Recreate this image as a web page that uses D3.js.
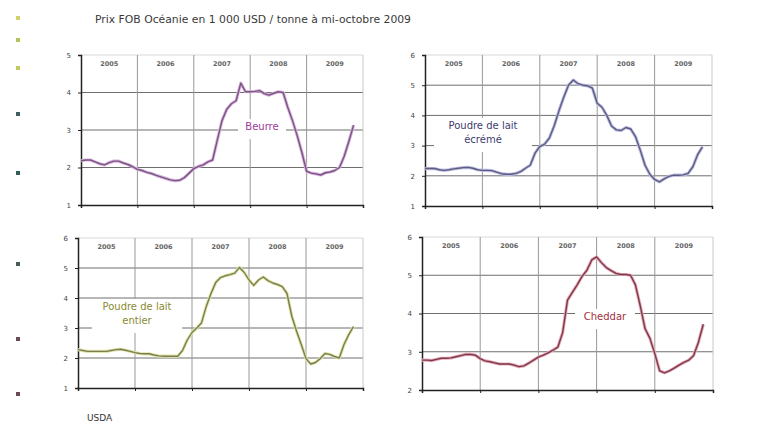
<!DOCTYPE html>
<html>
<head>
<meta charset="utf-8">
<script src="https://cdn.jsdelivr.net/npm/d3@7"></script>
<style>
  body { margin: 0; background: #fff; }
  svg { display: block; font-family: "DejaVu Sans", Verdana, sans-serif; }
</style>
</head>
<body>
<svg id="chart" width="764" height="425"></svg>
<script>
// monthly prices, Jan 2005 -> Oct/Nov 2009 (1 000 USD / t)
var years = ['2005', '2006', '2007', '2008', '2009'];
var startYear = 2005;

var beurre = [2.18, 2.2, 2.2, 2.15, 2.1, 2.07, 2.13, 2.17, 2.17, 2.12, 2.08, 2.02,
    1.95, 1.92, 1.87, 1.84, 1.79, 1.75, 1.71, 1.67, 1.65, 1.66, 1.73, 1.85,
    1.97, 2.03, 2.07, 2.15, 2.2, 2.73, 3.25, 3.55, 3.7, 3.78, 4.25, 4.02,
    4.02, 4.03, 4.05, 3.97, 3.93, 3.98, 4.02, 4.0, 3.6, 3.25, 2.85, 2.4,
    1.9, 1.85, 1.83, 1.8, 1.86, 1.88, 1.92, 2.0, 2.3, 2.7, 3.13];

var poudreEcreme = [2.24, 2.24, 2.24, 2.2, 2.18, 2.2, 2.23, 2.25, 2.27, 2.28, 2.25, 2.2,
    2.18, 2.18, 2.17, 2.12, 2.07, 2.05, 2.05, 2.08, 2.14, 2.25, 2.35, 2.75,
    2.97, 3.05, 3.25, 3.65, 4.15, 4.6, 5.0, 5.17, 5.05, 5.0, 4.98, 4.9,
    4.4, 4.27, 4.0, 3.65, 3.52, 3.5, 3.6, 3.55, 3.3, 2.85, 2.35, 2.05,
    1.88, 1.8, 1.9, 1.98, 2.02, 2.02, 2.03, 2.08, 2.3, 2.7, 2.96];

var poudreEntier = [2.28, 2.25, 2.22, 2.22, 2.22, 2.22, 2.22, 2.25, 2.28, 2.29, 2.26, 2.22,
    2.18, 2.15, 2.14, 2.14, 2.1, 2.07, 2.06, 2.06, 2.06, 2.06, 2.25, 2.6,
    2.85, 3.0, 3.17, 3.72, 4.15, 4.52, 4.68, 4.74, 4.78, 4.83, 5.02, 4.85,
    4.6, 4.42, 4.6, 4.7, 4.58, 4.5, 4.45, 4.38, 4.15, 3.4, 2.9, 2.45,
    1.98, 1.8, 1.85, 1.98, 2.15, 2.12, 2.05, 2.0, 2.45, 2.78, 3.05];

var cheddar = [2.78, 2.78, 2.77, 2.8, 2.83, 2.83, 2.84, 2.87, 2.9, 2.93, 2.93, 2.91,
    2.82, 2.76, 2.74, 2.71, 2.68, 2.68, 2.68, 2.65, 2.61, 2.63, 2.7, 2.78,
    2.86, 2.91, 2.97, 3.04, 3.12, 3.5, 4.35, 4.55, 4.75, 4.97, 5.13, 5.4,
    5.48, 5.33, 5.2, 5.12, 5.05, 5.02, 5.02, 5.0, 4.75, 4.2, 3.6, 3.35,
    2.95, 2.5, 2.45, 2.5, 2.57, 2.65, 2.72, 2.78, 2.9, 3.25, 3.72];

var ticks5 = [1, 2, 3, 4, 5];
var ticks6 = [1, 2, 3, 4, 5, 6];
var ticksCheddar = [2, 3, 4, 5, 6];

var svg = d3.select('#chart');

svg.append('text')
    .attr('x', 95).attr('y', 23)
    .attr('font-size', 11)
    .attr('textLength', 316)
    .attr('lengthAdjust', 'spacingAndGlyphs')
    .attr('fill', '#3a3a3a')
    .text('Prix FOB Océanie en 1 000 USD / tonne à mi-octobre 2009');

svg.append('text')
    .attr('x', 87).attr('y', 421)
    .attr('font-size', 9)
    .attr('fill', '#333')
    .text('USDA');

// little bullet marks down the left side
var bullets = [[18, '#cfd36a'], [40, '#b9c25a'], [68, '#c2cc5a'], [114, '#3f5f5f'],
    [173, '#2f5f58'], [264, '#4a5a5a'], [339, '#6a4a58'], [394, '#6a4a58']];
svg.selectAll('rect.bullet').data(bullets).enter().append('rect')
    .attr('class', 'bullet')
    .attr('x', 16).attr('y', d => d[0] - 2)
    .attr('width', 4).attr('height', 4)
    .attr('fill', d => d[1]);

function Panel(cfg) {
    var x = d3.scaleLinear().domain([startYear, startYear + years.length]).range([cfg.left, cfg.right]);
    var y = d3.scaleLinear().domain(d3.extent(cfg.ticks)).range([cfg.bottom, cfg.top]);
    var g = svg.append('g');

    // horizontal grid
    g.selectAll('line.hgrid').data(cfg.ticks.slice(1)).enter().append('line')
        .attr('x1', cfg.left).attr('x2', cfg.right)
        .attr('y1', d => y(d)).attr('y2', d => y(d))
        .attr('stroke', d => d == cfg.ticks[cfg.ticks.length - 1] ? '#d8d8d8' : '#6e6e6e')
        .attr('stroke-width', 1);

    // vertical grid at year boundaries
    g.selectAll('line.vgrid').data(d3.range(1, years.length + 1)).enter().append('line')
        .attr('x1', d => x(startYear + d)).attr('x2', d => x(startYear + d))
        .attr('y1', cfg.top).attr('y2', cfg.bottom)
        .attr('stroke', d => d == years.length ? '#c8c8c8' : '#999')
        .attr('stroke-width', 1);

    // year labels
    g.selectAll('text.year').data(years).enter().append('text')
        .attr('x', (d, i) => x(startYear + i + 0.5))
        .attr('y', cfg.top + 11)
        .attr('text-anchor', 'middle')
        .attr('font-size', 6.5)
        .attr('font-weight', 'bold')
        .attr('fill', '#666')
        .text(d => d);

    var yAxis = g.append('g')
        .attr('transform', `translate(${cfg.left},0)`)
        .call(d3.axisLeft(y).tickValues(cfg.ticks).tickSize(3).tickFormat(d3.format('d')));
    yAxis.select('.domain').attr('stroke', '#222').attr('stroke-width', 1.5);
    yAxis.selectAll('.tick line').attr('stroke', '#222');
    yAxis.selectAll('.tick text').attr('font-size', 7).attr('fill', '#444')
        .attr('x', -10).attr('font-family', '"DejaVu Sans", sans-serif');

    var xAxis = g.append('g')
        .attr('transform', `translate(0,${cfg.bottom})`)
        .call(d3.axisBottom(x).tickValues(d3.range(startYear, startYear + years.length + 1)).tickSize(3).tickFormat(''));
    xAxis.select('.domain').attr('stroke', '#222').attr('stroke-width', 1.5);
    xAxis.selectAll('.tick line').attr('stroke', '#222');

    // series label on a white box
    var lab = g.append('g');
    lab.append('rect')
        .attr('x', cfg.label.x - cfg.label.w / 2).attr('y', cfg.label.y - 11)
        .attr('width', cfg.label.w).attr('height', cfg.label.lines.length * 14 + 6)
        .attr('fill', '#fff');
    lab.selectAll('text').data(cfg.label.lines).enter().append('text')
        .attr('x', cfg.label.x)
        .attr('y', (d, i) => cfg.label.y + i * 14)
        .attr('text-anchor', 'middle')
        .attr('font-size', 10)
        .attr('fill', cfg.label.color)
        .text(d => d);

    var line = d3.line()
        .x((d, i) => x(startYear + i / 12))
        .y(d => y(d));

    g.append('path')
        .datum(cfg.values)
        .attr('d', line)
        .attr('fill', 'none')
        .attr('stroke', cfg.halo)
        .attr('stroke-width', 3.2)
        .attr('stroke-linejoin', 'round');
    g.append('path')
        .datum(cfg.values)
        .attr('d', line)
        .attr('fill', 'none')
        .attr('stroke', cfg.color)
        .attr('stroke-width', 1.4)
        .attr('stroke-linejoin', 'round');
}

Panel({left: 81, right: 363, top: 55, bottom: 205, ticks: ticks5, values: beurre,
    color: '#76587c', halo: '#dcb0e4',
    label: {x: 262, y: 130, w: 48, lines: ['Beurre'], color: '#9a3a9a'}});

Panel({left: 425, right: 712, top: 55, bottom: 206, ticks: ticks6, values: poudreEcreme,
    color: '#5c5c80', halo: '#bcbce4',
    label: {x: 483, y: 129, w: 98, lines: ['Poudre de lait', 'écrémé'], color: '#404070'}});

Panel({left: 78, right: 363, top: 238, bottom: 388, ticks: ticks6, values: poudreEntier,
    color: '#7a7e50', halo: '#e0e4a8',
    label: {x: 137, y: 310, w: 90, lines: ['Poudre de lait', 'entier'], color: '#8a8a30'}});

Panel({left: 422, right: 713, top: 237, bottom: 390, ticks: ticksCheddar, values: cheddar,
    color: '#7a3a48', halo: '#e8a8b8',
    label: {x: 605, y: 320, w: 60, lines: ['Cheddar'], color: '#a03040'}});
</script>
</body>
</html>
